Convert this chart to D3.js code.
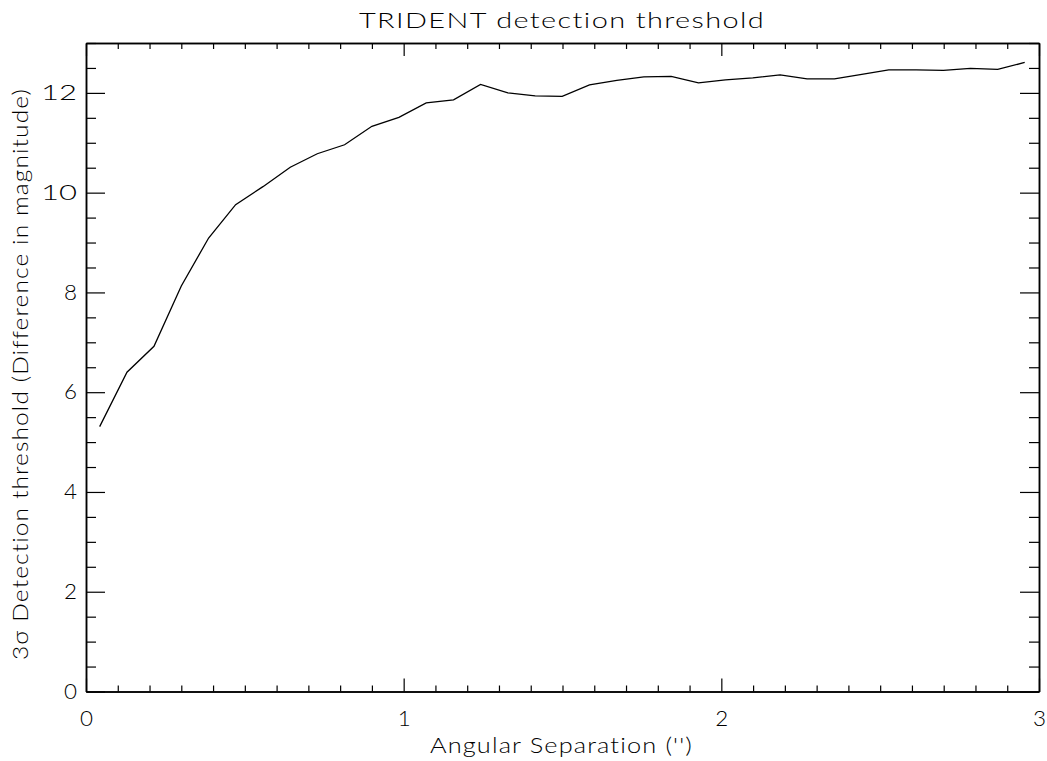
<!DOCTYPE html>
<html>
<head>
<meta charset="utf-8">
<script src="https://cdn.jsdelivr.net/npm/d3@7"></script>
<style>
	body { margin: 0; background: #fff; }
	text { font-family: Lato, "DejaVu Sans", sans-serif; font-weight: 300; fill: #000; }
	.axis path { stroke: #000; stroke-width: 1.5; }
	.axis line { stroke: #000; stroke-width: 1.2; }
</style>
</head>
<body>
<svg id="chart" width="1047" height="761"></svg>
<script>
// angular separation (arcsec)
var sep = [0.043, 0.129, 0.214, 0.300, 0.386, 0.471, 0.557, 0.643, 0.728, 0.814,
	0.900, 0.985, 1.071, 1.157, 1.242, 1.328, 1.414, 1.499, 1.585, 1.671,
	1.756, 1.842, 1.928, 2.013, 2.099, 2.185, 2.270, 2.356, 2.442, 2.527,
	2.613, 2.699, 2.784, 2.870, 2.955];
// 3 sigma detection threshold (delta mag)
var thresh = [5.31, 6.40, 6.92, 8.13, 9.09, 9.76, 10.12, 10.51, 10.78, 10.96,
	11.33, 11.51, 11.80, 11.86, 12.17, 12.00, 11.94, 11.93, 12.16, 12.25,
	12.32, 12.33, 12.20, 12.26, 12.30, 12.36, 12.28, 12.28, 12.37, 12.46,
	12.46, 12.45, 12.49, 12.47, 12.61];

var xMajor = [0, 1, 2, 3];
var yMajor = [0, 2, 4, 6, 8, 10, 12];

var m = {left: 86, right: 1039, top: 43, bottom: 691.5};
var svg = d3.select('#chart');

var x = d3.scaleLinear().domain([0, 3]).range([m.left, m.right]);
var y = d3.scaleLinear().domain([0, 13]).range([m.bottom, m.top]);

var xMinor = d3.range(0, 3.0001, 0.1).filter(function(v) { return Math.abs(v - Math.round(v)) > 0.01; });
var yMinor = d3.range(0, 13.0001, 0.5).filter(function(v) { return v % 2 != 0; });

function axis(gen, scale, vals, size, pos, labels) {
	var a = gen(scale).tickValues(vals).tickSize(size).tickSizeOuter(0);
	if (!labels) a.tickFormat('');
	else a.tickFormat(d3.format('d'));
	var g = svg.append('g').attr('class', 'axis').attr('transform', pos).call(a);
	return g;
}

// minor ticks
axis(d3.axisBottom, x, xMinor, -6, 'translate(0,' + m.bottom + ')');
axis(d3.axisTop, x, xMinor, -6, 'translate(0,' + m.top + ')');
axis(d3.axisLeft, y, yMinor, -10, 'translate(' + m.left + ',0)');
axis(d3.axisRight, y, yMinor, -10, 'translate(' + m.right + ',0)');

// major ticks
var bx = axis(d3.axisBottom, x, xMajor, -13, 'translate(0,' + m.bottom + ')', true);
bx.selectAll('text').attr('font-size', 22).attr('dy', '0.71em').attr('y', 19)
	.attr('textLength', 13).attr('lengthAdjust', 'spacingAndGlyphs');
axis(d3.axisTop, x, xMajor, -13, 'translate(0,' + m.top + ')');
var ly = axis(d3.axisLeft, y, yMajor, -19, 'translate(' + m.left + ',0)', true);
ly.selectAll('text').attr('font-size', 22).attr('x', -9).attr('dy', '0.3em')
	.attr('textLength', function(d) { return d >= 10 ? 36 : 13; })
	.attr('lengthAdjust', 'spacingAndGlyphs');
axis(d3.axisRight, y, yMajor, -19, 'translate(' + m.right + ',0)');

svg.selectAll('.axis text').style('font-family', 'Lato, "DejaVu Sans", sans-serif').style('font-weight', 300);

// data line
var line = d3.line().x(function(d, i) { return x(sep[i]); }).y(function(d) { return y(d); });
svg.append('path').datum(thresh).attr('d', line)
	.attr('fill', 'none').attr('stroke', '#000').attr('stroke-width', 1.3);

// titles
svg.append('text').attr('x', 359).attr('y', 28)
	.attr('font-size', 21).attr('letter-spacing', 1)
	.attr('textLength', 406).attr('lengthAdjust', 'spacingAndGlyphs')
	.text('TRIDENT detection threshold');
svg.append('text').attr('x', 430).attr('y', 753)
	.attr('font-size', 22).attr('letter-spacing', 1)
	.attr('textLength', 263).attr('lengthAdjust', 'spacingAndGlyphs')
	.text("Angular Separation ('')");
svg.append('text').attr('transform', 'translate(28,660) rotate(-90)')
	.attr('font-size', 22).attr('letter-spacing', 1)
	.attr('textLength', 572).attr('lengthAdjust', 'spacingAndGlyphs')
	.text('3σ Detection threshold (Difference in magnitude)');
</script>
</body>
</html>
